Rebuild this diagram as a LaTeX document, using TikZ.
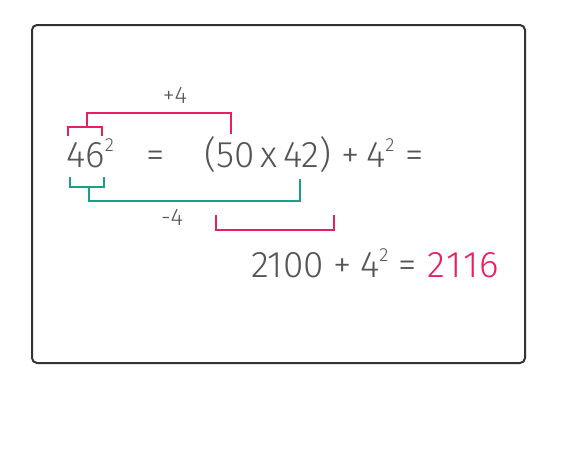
\documentclass[tikz,border=0pt]{standalone}
\usepackage{fontspec}
\setmainfont{Fira Sans Light}
\usepackage{xcolor}
\definecolor{txt}{HTML}{555555}
\definecolor{pinkc}{HTML}{E91E63}
\definecolor{tealc}{HTML}{1E9E8A}
\definecolor{framec}{HTML}{333333}
\newcommand{\sqd}{\raisebox{0.42em}{\fontsize{19}{19}\selectfont 2}}
\begin{document}
\begin{tikzpicture}[x=1pt,y=-1pt,
  big/.style={inner sep=0pt, anchor=base west, text=txt, font=\fontsize{37}{40}\selectfont},
  small/.style={inner sep=0pt, text=txt, font=\fontsize{24}{26}\selectfont},
  pinkline/.style={draw=pinkc, line width=2pt},
  tealline/.style={draw=tealc, line width=2pt}]
\useasboundingbox (0,0) rectangle (585,469);
\fill[white] (0,0) rectangle (585,469);
\draw[framec, line width=2pt, rounded corners=5pt] (32,25) rectangle (525,363);

% line 1
\node[big] (n46) at (66,167) {46\sqd};
\node[big] (eq1) at (146,167) {=};
\node[big] (prod) at (204,167) {(50\hspace{6pt}x\hspace{6pt}42)};
\node[big] (plus1) at (341,167) {+};
\node[big] (four1) at (366,167) {4\sqd};
\node[big] (eq2) at (405,167) {=};
% line 2
\node[big] (l2a) at (251,277) {2100};
\node[big] (plus2) at (333,277) {+};
\node[big] (four2) at (360,277) {4\sqd};
\node[big] (eq3) at (398,277) {=};
\node[big, text=pinkc] (res) at (427,277) {\kern0.6pt2\kern1.2pt1\kern1.2pt1\kern1.2pt6};
% labels
\node[small] (p4) at (175,95) {+4};
\node[small] (m4) at (172,217) {-4};

% pink top bracket
\draw[pinkline] (68,135.5) -- (68,127) -- (102,127) -- (102,135.5);
\draw[pinkline] (87,127) -- (87,113) -- (231,113) -- (231,133.5);
% teal bracket
\draw[tealline] (70,177) -- (70,186.5) -- (104,186.5) -- (104,177);
\draw[tealline] (89,186.5) -- (89,200.5) -- (299.5,200.5) -- (299.5,179);
% pink bottom bracket
\draw[pinkline] (216,215) -- (216,230) -- (334,230) -- (334,215);
\end{tikzpicture}
\end{document}
